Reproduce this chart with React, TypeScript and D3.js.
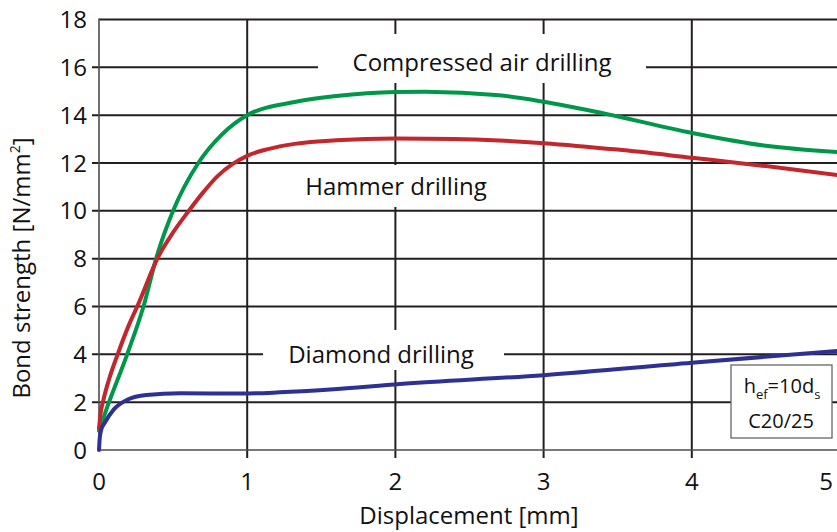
import React from "react";
import * as d3 from "d3";

const W = 837;
const H = 532;

const xTicks = [0, 1, 2, 3, 4, 5];
const yTicks = [0, 2, 4, 6, 8, 10, 12, 14, 16, 18];

const compressedX = [0, 0.05, 0.19, 0.3, 0.39, 0.5, 0.67, 0.83, 1.0, 1.32, 1.6, 2.0, 2.2, 2.7, 3.0, 3.4, 4.0, 4.5, 5.0];
const compressedY = [0.8, 1.7, 4.0, 6.0, 8.1, 10.0, 12.0, 13.2, 14.0, 14.55, 14.8, 14.97, 14.98, 14.83, 14.56, 14.08, 13.26, 12.72, 12.45];

const hammerX = [0, 0.01, 0.03, 0.07, 0.126, 0.2, 0.265, 0.4, 0.5, 0.6, 0.7, 0.8, 0.9, 1.0, 1.14, 1.32, 1.6, 2.0, 2.4, 2.7, 3.0, 3.5, 4.0, 4.5, 5.0];
const hammerY = [0.9, 1.5, 2.1, 3.0, 4.0, 5.2, 6.1, 8.08, 9.1, 9.95, 10.75, 11.45, 11.95, 12.3, 12.58, 12.8, 12.95, 13.02, 13.0, 12.94, 12.83, 12.56, 12.22, 11.87, 11.48];

const diamondX = [0, 0.005, 0.015, 0.04, 0.1, 0.19, 0.32, 0.55, 0.97, 1.22, 1.56, 2.03, 3.0, 4.0, 5.0];
const diamondY = [0, 0.5, 0.85, 1.15, 1.7, 2.1, 2.3, 2.37, 2.36, 2.41, 2.53, 2.76, 3.13, 3.65, 4.15];

const seriesNames = ["Compressed air drilling", "Hammer drilling", "Diamond drilling"];
const seriesColors = ["#00974a", "#c1272d", "#2e3192"];

const FONT = "'Open Sans', 'Noto Sans', sans-serif";
const GRID = "#231f20";

export default function App() {
  const x = d3.scaleLinear().domain([0, 5]).range([99, 840]);
  const y = d3.scaleLinear().domain([0, 18]).range([450, 19.5]);

  const line = d3
    .line<[number, number]>()
    .x((d) => x(d[0]))
    .y((d) => y(d[1]))
    .curve(d3.curveMonotoneX);

  const series = [
    { xs: compressedX, ys: compressedY },
    { xs: hammerX, ys: hammerY },
    { xs: diamondX, ys: diamondY },
  ];

  return (
    <svg
      width={W}
      height={H}
      style={{ position: "absolute", left: 0, top: 0, background: "#fff" }}
      fontFamily={FONT}
    >
      <rect x={0} y={0} width={W} height={H} fill="#fff" />
      {/* horizontal grid lines */}
      {yTicks.map((t) => {
        if (t === 0) return null;
        const x1 = t === 18 ? x(0) : x(0) - 7;
        return (
          <line key={"h" + t} x1={x1} x2={W} y1={y(t)} y2={y(t)} stroke={GRID} strokeWidth={2} />
        );
      })}
      {/* vertical grid lines */}
      {xTicks.map((t) => {
        if (t === 0) return null;
        return (
          <line key={"v" + t} x1={x(t)} x2={x(t)} y1={y(18)} y2={y(0) + 8} stroke={GRID} strokeWidth={2} />
        );
      })}
      {/* axes */}
      <line x1={x(0)} x2={x(0)} y1={y(18) - 1} y2={y(0)} stroke="#4d4d4f" strokeWidth={1.6} />
      <line x1={x(0)} x2={W} y1={y(0)} y2={y(0)} stroke="#4d4d4f" strokeWidth={1.6} />

      {/* label backgrounds interrupting the grid */}
      <rect x={318} y={34} width={328} height={49} fill="#fff" />
      <rect x={296} y={165} width={202} height={42} fill="#fff" />
      <rect x={263} y={330} width={241} height={40} fill="#fff" />

      {/* curves */}
      {series.map((s, i) => (
        <path
          key={"s" + i}
          d={line(s.xs.map((v, j) => [v, s.ys[j]] as [number, number])) || ""}
          fill="none"
          stroke={seriesColors[i]}
          strokeWidth={4}
          strokeLinecap="round"
          strokeLinejoin="round"
        />
      ))}

      {/* series labels */}
      <text x={482} y={71} fontSize={24} textAnchor="middle" fill="#111">
        {seriesNames[0]}
      </text>
      <text x={396} y={195} fontSize={24} textAnchor="middle" fill="#111">
        {seriesNames[1]}
      </text>
      <text x={381} y={363} fontSize={24} textAnchor="middle" fill="#111">
        {seriesNames[2]}
      </text>

      {/* y tick labels */}
      {yTicks.map((t) => (
        <text key={"yl" + t} x={87} y={y(t)} dy="0.36em" fontSize={24} textAnchor="end" fill="#111">
          {t}
        </text>
      ))}
      {/* x tick labels */}
      {xTicks.map((t) => (
        <text key={"xl" + t} x={Math.min(x(t), 826)} y={490} fontSize={24} textAnchor="middle" fill="#111">
          {t}
        </text>
      ))}

      {/* axis titles */}
      <text x={469} y={524} fontSize={24} textAnchor="middle" fill="#111">
        Displacement [mm]
      </text>
      <text
        transform={`translate(30, 268) rotate(-90)`}
        fontSize={24}
        textAnchor="middle"
        fill="#111"
      >
        Bond strength [N/mm<tspan fontSize={14} dy={-10}>2</tspan>
        <tspan dy={10}>]</tspan>
      </text>

      {/* info box */}
      <rect x={731} y={365} width={101} height={73} fill="#fff" stroke="#666" strokeWidth={1.3} />
      <text x={782} y={393} fontSize={20} textAnchor="middle" fill="#111">
        h<tspan fontSize={13} dy={6}>ef</tspan>
        <tspan dy={-6}>=10d</tspan>
        <tspan fontSize={13} dy={6}>s</tspan>
      </text>
      <text x={781} y={428} fontSize={20} textAnchor="middle" fill="#111">
        C20/25
      </text>
    </svg>
  );
}
